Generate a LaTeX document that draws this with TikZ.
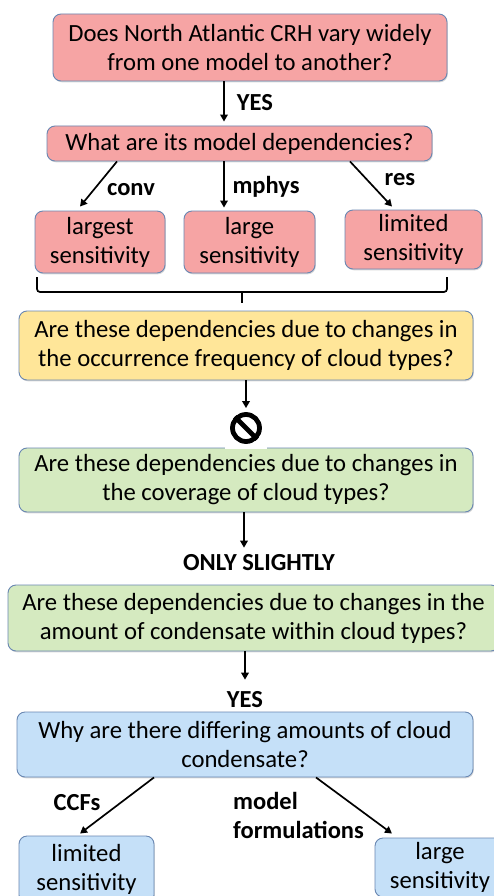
\documentclass[tikz,border=0pt]{standalone}
\usepackage{fontspec}
\setmainfont{Carlito}
\usetikzlibrary{arrows.meta,shadows}
\definecolor{redf}{RGB}{246,164,164}
\definecolor{yelf}{RGB}{255,230,153}
\definecolor{grnf}{RGB}{213,234,192}
\definecolor{bluf}{RGB}{197,224,248}
\definecolor{bord}{RGB}{105,135,178}
\tikzset{
  box/.style={draw=bord, line width=0.9pt, rounded corners=8pt, align=center,
    inner sep=0pt, font=\fontsize{24.7}{29}\selectfont,
    drop shadow={shadow xshift=0.8pt, shadow yshift=-1.3pt, opacity=0.3}},
  lbl/.style={font=\fontsize{24.5}{29}\selectfont\bfseries, inner sep=0pt},
  arr/.style={line width=1.7pt, -{Triangle[length=7pt,width=7.5pt]}},
  ln/.style={line width=1.7pt}
}
\begin{document}
\begin{tikzpicture}[x=1pt,y=-1pt]
\useasboundingbox (0,0) rectangle (493,896);
\fill[white] (0,0) rectangle (493,896);
% boxes
\node[box, fill=redf, minimum width=394pt, minimum height=67pt] (b1) at (250,47.5) {Does North Atlantic CRH vary widely\\from one model to another?};
\node[box, fill=redf, minimum width=385pt, minimum height=35pt] (b2) at (239.5,143.5) {What are its model dependencies?};
\node[box, fill=redf, minimum width=130pt, minimum height=62pt] (sL) at (100,242) {largest\\sensitivity};
\node[box, fill=redf, minimum width=131pt, minimum height=62pt] (sM) at (249.5,242) {large\\sensitivity};
\node[box, fill=redf, minimum width=137pt, minimum height=59pt] (sR) at (413.5,239.5) {limited\\sensitivity};
\node[box, fill=yelf, minimum width=454pt, minimum height=69pt] (y1) at (246,345.5) {Are these dependencies due to changes in\\the occurrence frequency of cloud types?};
\node[box, fill=grnf, minimum width=454pt, minimum height=64pt] (g1) at (246,480) {Are these dependencies due to changes in\\the coverage of cloud types?};
\node[box, fill=grnf, minimum width=491pt, minimum height=66pt] (g2) at (253.5,618) {Are these dependencies due to changes in the\\amount of condensate within cloud types?};
\node[box, fill=bluf, minimum width=456pt, minimum height=65pt] (u1) at (245,744.5) {Why are there differing amounts of cloud\\condensate?};
\node[box, fill=bluf, minimum width=135pt, minimum height=67pt] (bL) at (86.5,869.5) {limited\\sensitivity};
\node[box, fill=bluf, minimum width=130pt, minimum height=59pt] (bR) at (440,867.5) {large\\sensitivity};
% labels
\node[lbl] (yes1) at (255,103) {YES};
\node[lbl] (conv) at (131,190) {conv};
\node[lbl] (mphys) at (266,187) {mphys};
\node[lbl] (res) at (400,180) {res};
\node[lbl] (only) at (259,563) {ONLY SLIGHTLY};
\node[lbl] (yes2) at (245,700) {YES};
\node[lbl] (ccf) at (77,803) {CCFs};
\node[lbl, align=left, anchor=west] (mf) at (233,815) {model\\formulations};
% arrows
\draw[arr] ([xshift=-26pt]b1.south) -- ([xshift=-15.5pt, yshift=4pt]b2.north);
\draw[arr] ([xshift=-122.5pt]b2.south) -- ([xshift=-20pt, yshift=4pt]sL.north);
\draw[arr] ([xshift=-15.5pt]b2.south) -- ([xshift=-25.5pt, yshift=3pt]sM.north);
\draw[arr] ([xshift=110.5pt]b2.south) -- ([xshift=-21.5pt, yshift=3pt]sR.north);
% brace
\coordinate (brL) at (37,277);
\coordinate (brR) at (447,277);
\coordinate (brM) at (242,292);
\coordinate (brE) at (242,303);
\draw[ln, rounded corners=3pt] (brL) -- (37,292) -- (447,292) -- (brR);
\draw[ln] (brM) -- (brE);
% no symbol
\node[circle, draw, line width=4.8pt, minimum size=27pt, inner sep=0pt] (no) at (246,428) {};
\draw[line width=4.8pt] (no.north west) -- (no.south east);
\fill[white] (225,445.5) rectangle (267,449.2);
\draw[arr] (y1.south) -- ([yshift=4pt]no.north);
\draw[arr] ([xshift=-2pt]g1.south) -- ([xshift=-15pt, yshift=7pt]only.north);
\draw[arr] ([xshift=-8.5pt]g2.south) -- ([yshift=12pt]yes2.north);
\draw[arr] ([xshift=-91pt]u1.south) -- ([xshift=-6.5pt, yshift=2pt]bL.north);
\draw[arr] ([xshift=71pt]u1.south) -- ([xshift=-48pt, yshift=4pt]bR.north);
\end{tikzpicture}
\end{document}
